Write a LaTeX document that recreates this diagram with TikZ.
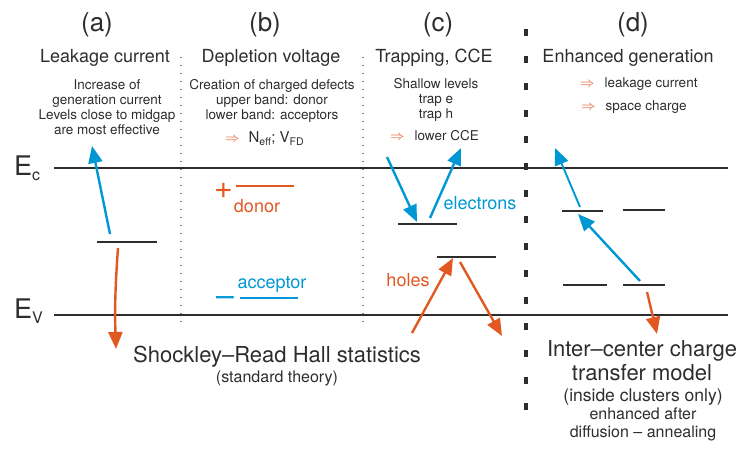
\documentclass[tikz,border=0pt]{standalone}
\usepackage{fontspec}
\setmainfont{TeX Gyre Heros}
\usetikzlibrary{arrows.meta}
\definecolor{ccblue}{RGB}{0,152,212}
\definecolor{ccorange}{RGB}{226,88,34}
\definecolor{ccdark}{RGB}{45,45,45}
\tikzset{
  txt/.style={anchor=base,inner sep=0pt,text=ccdark,align=center},
  panel/.style={txt,font=\fontsize{26}{30}\selectfont},
  head/.style={txt,font=\fontsize{18}{21}\selectfont},
  note/.style={txt,font=\fontsize{13.5}{15}\selectfont},
  big/.style={txt,font=\fontsize{22}{24}\selectfont},
  small/.style={txt,font=\fontsize{16}{18}\selectfont},
  clabel/.style={anchor=base,inner sep=0pt,font=\fontsize{18}{21}\selectfont},
  band/.style={draw=ccdark,line width=2.8pt},
  level/.style={draw=ccdark,line width=2.5pt},
  blarrow/.style={draw=ccblue,line width=2.4pt,-{Triangle[length=17pt,width=14pt]}},
  orarrow/.style={draw=ccorange,line width=2.4pt,-{Triangle[length=17pt,width=14pt]}},
  sep/.style={draw=gray,line width=1.2pt,dash pattern=on 1.2pt off 6.8pt},
  thicksep/.style={draw=ccdark,line width=3.5pt,dash pattern=on 7pt off 19.7pt}
}
\newcommand{\impl}{\textcolor{ccorange}{$\Rightarrow$}}
\begin{document}
\begin{tikzpicture}[x=1pt,y=-1pt]
\useasboundingbox (0,0) rectangle (739,449);
\node[panel] (pa) at (97,31.5) {(a)};
\node[panel] (pb) at (265,31.5) {(b)};
\node[panel] (pc) at (438,31.5) {(c)};
\node[panel] (pd) at (633,31.5) {(d)};
\node[head] (ha) at (105,63) {Leakage current};
\node[head] (hb) at (271,63) {Depletion voltage};
\node[head] (hc) at (434,63) {Trapping, CCE};
\node[head] (hd) at (628,63) {Enhanced generation};
\node[note] (na) at (107,135) {Increase of\\generation current\\Levels close to midgap\\are most effective};
\node[note] (nb) at (272,120) {Creation of charged defects\\upper band: donor\\lower band: acceptors};
\node[txt,anchor=base west,font=\fontsize{15}{18}\selectfont] (nb2) at (225,143) {\impl\hspace{9pt}N\textsubscript{eff}; V\textsubscript{FD}};
\node[note] (nc) at (436,119) {Shallow levels\\trap e\\trap h};
\node[note,anchor=base west] (nc2) at (390,141) {\impl\hspace{10pt}lower CCE};
\node[note,anchor=base west] (nd1) at (580,88) {\impl\hspace{10pt}leakage current};
\node[note,anchor=base west] (nd2) at (581,111) {\impl\hspace{10pt}space charge};
\node[txt,anchor=base west,font=\fontsize{27}{30}\selectfont] (Ec) at (14,176) {E\raisebox{-5pt}{\fontsize{16}{16}\selectfont c}};
\node[txt,anchor=base west,font=\fontsize{27}{30}\selectfont] (Ev) at (14,318) {E\raisebox{-5pt}{\fontsize{16}{16}\selectfont V}};
\coordinate (ecl) at (54,168);
\coordinate (ecr) at (728,168);
\coordinate (evl) at (54,315);
\coordinate (evr) at (728,315);
\draw[band] (ecl) -- (ecr);
\draw[band] (evl) -- (evr);
\coordinate (s1t) at (181,57);
\coordinate (s1b) at (181,325);
\coordinate (s2t) at (363,57);
\coordinate (s2b) at (363,325);
\coordinate (s3t) at (526,29.5);
\coordinate (s3b) at (526,411);
\draw[sep] (s1t) -- (s1b);
\draw[sep] (s2t) -- (s2b);
\draw[thicksep] (s3t) -- (s3b);
\coordinate (la1) at (97,242);
\coordinate (la2) at (157,242);
\draw[level] (la1) -- (la2);
\coordinate (a-es) at (110,234);
\coordinate (a-ee) at (92,146);
\coordinate (a-hs) at (118,248);
\coordinate (a-he) at (116,349);
\draw[blarrow] (a-es) -- (a-ee);
\draw[orarrow] (a-hs) to[bend right=3] (a-he);
\node[anchor=base,inner sep=0pt,text=ccorange,font=\fontsize{32}{32}\selectfont] (plus) at (223.5,198.5) {+};
\coordinate (don1) at (236,186);
\coordinate (don2) at (294,186);
\draw[draw=ccorange,line width=2.5pt] (don1) -- (don2);
\node[clabel,text=ccorange] (donor) at (257,213) {donor};
\node[anchor=base,inner sep=0pt,text=ccblue,font=\fontsize{32}{32}\selectfont] (minus) at (225,306.5) {–};
\coordinate (acc1) at (240,298);
\coordinate (acc2) at (298,298);
\draw[draw=ccblue,line width=2.5pt] (acc1) -- (acc2);
\node[clabel,text=ccblue] (acceptor) at (272,288) {acceptor};
\coordinate (lc1) at (398,224);
\coordinate (lc2) at (457,224);
\coordinate (lc3) at (437,257);
\coordinate (lc4) at (496,257);
\draw[level] (lc1) -- (lc2);
\draw[level] (lc3) -- (lc4);
\coordinate (c-e1s) at (387,157);
\coordinate (c-e1e) at (417,222);
\coordinate (c-e2s) at (430,218);
\coordinate (c-e2e) at (461,148);
\coordinate (c-h1s) at (412,333);
\coordinate (c-h1e) at (453,258);
\coordinate (c-h2s) at (460,262);
\coordinate (c-h2e) at (502,336);
\draw[blarrow] (c-e1s) -- (c-e1e);
\draw[blarrow] (c-e2s) -- (c-e2e);
\draw[orarrow] (c-h1s) -- (c-h1e);
\draw[orarrow] (c-h2s) -- (c-h2e);
\node[clabel,text=ccblue] (electrons) at (480,210) {electrons};
\node[clabel,text=ccorange] (holes) at (408,287) {holes};
\coordinate (ld1) at (562,211);
\coordinate (ld2) at (603,211);
\coordinate (ld3) at (623,210);
\coordinate (ld4) at (665,210);
\coordinate (ld5) at (563,285);
\coordinate (ld6) at (607,285);
\coordinate (ld7) at (623,285);
\coordinate (ld8) at (665,285);
\draw[level] (ld1) -- (ld2);
\draw[level] (ld3) -- (ld4);
\draw[level] (ld5) -- (ld6);
\draw[level] (ld7) -- (ld8);
\coordinate (d-e1s) at (580,207);
\coordinate (d-e1e) at (555,148);
\coordinate (d-e2s) at (640,281);
\coordinate (d-e2e) at (578,214);
\coordinate (d-hs) at (647,292);
\coordinate (d-he) at (657,334);
\draw[blarrow,line width=1.9pt] (d-e1s) -- (d-e1e);
\draw[blarrow] (d-e2s) -- (d-e2e);
\draw[orarrow] (d-hs) -- (d-he);
\node[big] (srh) at (277,362) {Shockley–Read Hall statistics};
\node[small] (srh2) at (277,382) {(standard theory)};
\node[big] (icc) at (642,380) {Inter–center charge\\transfer model};
\node[small] (icc2) at (643,437) {{\fontsize{17.5}{18}\selectfont (inside clusters only)}\\enhanced after\\diffusion – annealing};
\end{tikzpicture}
\end{document}
